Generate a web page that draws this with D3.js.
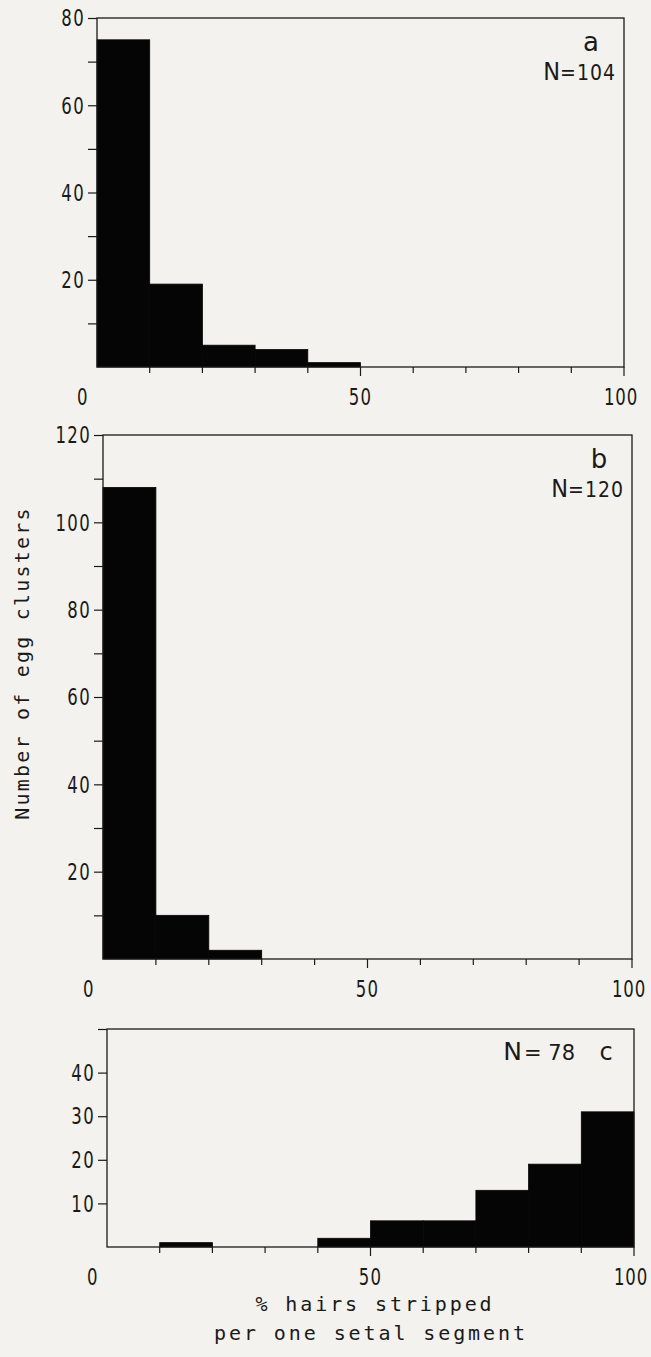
<!DOCTYPE html>
<html><head><meta charset="utf-8">
<script src="https://cdn.jsdelivr.net/npm/d3@7"></script>
<style>
html,body{margin:0;padding:0;background:#f4f2ee;}
svg{display:block;}
</style></head>
<body>
<svg id="chart" width="651" height="1357"></svg>
<script>
// ---- data ----
const binStarts = [0, 10, 20, 30, 40, 50, 60, 70, 80, 90];
const binWidth = 10;
const countsA = [75, 19, 5, 4, 1, 0, 0, 0, 0, 0];
const countsB = [108, 10, 2, 0, 0, 0, 0, 0, 0, 0];
const countsC = [0, 1, 0, 0, 2, 6, 6, 13, 19, 31];
const panelLetters = ["a", "b", "c"];
const panelN = ["104", "120", "78"];
const yMaxes = [80, 120, 50];
const yLabelTicksA = [20, 40, 60, 80];
const yLabelTicksB = [20, 40, 60, 80, 100, 120];
const yLabelTicksC = [10, 20, 30, 40];
const xTickLabels = [0, 50, 100];
const yTitle = "Number of egg clusters";
const xTitle1 = "% hairs stripped";
const xTitle2 = "per one setal segment";

// ---- layout ----
const svg = d3.select("#chart");
const ink = "#1a1a1a";
const tickFont = "'DejaVu Sans','Liberation Sans',sans-serif";
const monoFont = "'DejaVu Sans Mono','Liberation Mono',monospace";
const narrow = 0.72;

function condText(parent, tx, ty, str, anchor, size, spacing) {
  return parent.append("text")
    .attr("transform", `translate(${tx},${ty}) scale(${narrow},1)`)
    .attr("text-anchor", anchor).attr("dy", "0.36em")
    .attr("font-family", tickFont).attr("font-size", size)
    .attr("letter-spacing", spacing).attr("fill", ink).text(str);
}

const panels = [
  {counts: countsA, yMax: yMaxes[0], labTicks: yLabelTicksA, step: 10, x0: 97, x1: 624, top: 18, base: 367,
   letter: panelLetters[0], n: panelN[0], layout: "stack"},
  {counts: countsB, yMax: yMaxes[1], labTicks: yLabelTicksB, step: 10, x0: 103, x1: 632, top: 435, base: 959,
   letter: panelLetters[1], n: panelN[1], layout: "stack"},
  {counts: countsC, yMax: yMaxes[2], labTicks: yLabelTicksC, step: 10, x0: 107, x1: 634, top: 1029, base: 1247,
   letter: panelLetters[2], n: panelN[2], layout: "inline"}
];

panels.forEach(p => {
  const g = svg.append("g");
  const x = d3.scaleLinear().domain([0, 100]).range([p.x0, p.x1]);
  const y = d3.scaleLinear().domain([0, p.yMax]).range([p.base, p.top]);

  // bars
  const data = binStarts.map((s, i) => ({s, v: p.counts[i]})).filter(d => d.v > 0);
  g.selectAll("rect.bar").data(data).enter().append("rect")
    .attr("class", "bar")
    .attr("x", d => x(d.s))
    .attr("width", d => x(d.s + binWidth) - x(d.s))
    .attr("y", d => y(d.v))
    .attr("height", d => y(0) - y(d.v))
    .attr("fill", "#050505")
    .attr("stroke", "#050505").attr("stroke-width", 0.8);

  // frame
  g.append("rect")
    .attr("x", x(0)).attr("y", y(p.yMax))
    .attr("width", x(100) - x(0)).attr("height", y(0) - y(p.yMax))
    .attr("fill", "none").attr("stroke", ink).attr("stroke-width", 1.3);

  // y axis: ticks every 10, labels only on labTicks
  const yTicks = d3.range(p.step, p.yMax + 0.001, p.step);
  const yAxis = d3.axisLeft(y).tickValues(yTicks).tickSize(9).tickFormat("");
  const ya = g.append("g").attr("transform", `translate(${x(0)},0)`).call(yAxis);
  ya.select(".domain").remove();
  ya.selectAll("line").attr("stroke", ink).attr("stroke-width", 1.2);
  p.labTicks.forEach(v => condText(g, x(0) - 12, y(v), v, "end", 23, 1.8));

  // x axis ticks (downward)
  const xTicks = d3.range(10, 101, 10);
  const xa = g.append("g").attr("transform", `translate(0,${y(0)})`);
  xa.selectAll("line").data(xTicks).enter().append("line")
    .attr("x1", d => x(d)).attr("x2", d => x(d))
    .attr("y1", 0).attr("y2", d => (d === 50 || d === 100) ? 9 : 6)
    .attr("stroke", ink).attr("stroke-width", 1.2);
  xTickLabels.forEach(v => {
    const xx = v === 0 ? x(v) - 14 : x(v) - (v === 100 ? 3 : 0);
    condText(g, xx, y(0) + 30, v, "middle", 23, v === 100 ? 1.2 : 1.8);
  });

  // panel letter and N
  if (p.layout === "stack") {
    g.append("text").attr("x", x(100) - 33).attr("y", y(p.yMax) + 33)
      .attr("text-anchor", "middle").attr("font-family", "'DejaVu Sans',sans-serif")
      .attr("font-size", 26).attr("fill", ink).text(p.letter);
    const t = g.append("text").attr("x", x(100) - 8).attr("y", y(p.yMax) + 62)
      .attr("text-anchor", "end").attr("fill", ink).attr("font-family", "'DejaVu Sans Condensed','DejaVu Sans',sans-serif");
    t.append("tspan").attr("font-size", 25).text("N");
    t.append("tspan").attr("font-size", 21).attr("letter-spacing", 1).text("=" + p.n);
  } else {
    const t = g.append("text").attr("x", x(100) - 59).attr("y", y(p.yMax) + 31)
      .attr("text-anchor", "end").attr("fill", ink).attr("font-family", "'DejaVu Sans',sans-serif");
    t.append("tspan").attr("font-size", 25).text("N");
    t.append("tspan").attr("font-size", 21).attr("dx", 2).text("= " + p.n);
    g.append("text").attr("x", x(100) - 28).attr("y", y(p.yMax) + 31)
      .attr("text-anchor", "middle").attr("font-family", "'DejaVu Sans',sans-serif")
      .attr("font-size", 24).attr("fill", ink).text(p.letter);
  }
});

// y title
svg.append("text")
  .attr("transform", "translate(29,663) rotate(-90)")
  .attr("text-anchor", "middle")
  .attr("font-family", monoFont).attr("font-size", 20).attr("letter-spacing", 2.2)
  .attr("fill", ink).text(yTitle);

// x title
svg.append("text").attr("x", 375).attr("y", 1311).attr("text-anchor", "middle")
  .attr("font-family", monoFont).attr("font-size", 20).attr("letter-spacing", 2.9)
  .attr("fill", ink).text(xTitle1);
svg.append("text").attr("x", 371).attr("y", 1340).attr("text-anchor", "middle")
  .attr("font-family", monoFont).attr("font-size", 20).attr("letter-spacing", 2.9)
  .attr("fill", ink).text(xTitle2);
</script>
</body></html>
